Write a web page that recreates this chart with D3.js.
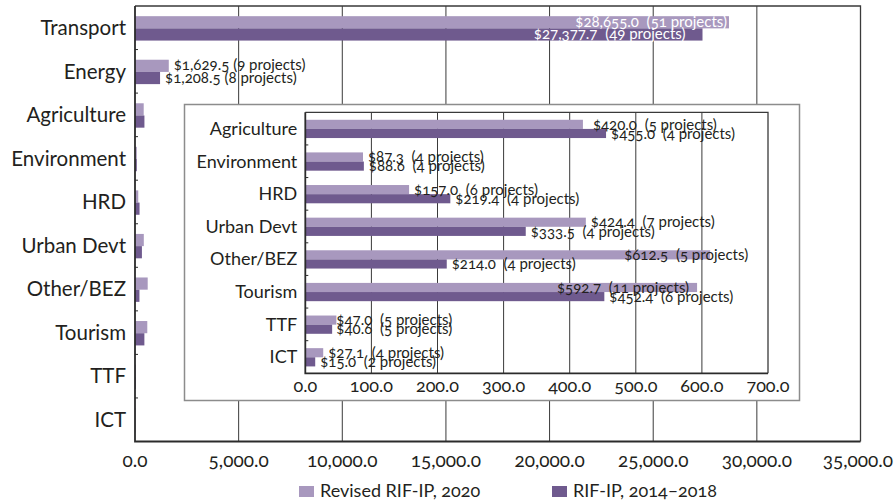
<!DOCTYPE html>
<html>
<head>
<meta charset="utf-8">
<script src="https://cdn.jsdelivr.net/npm/d3@7"></script>
<style>
  html, body { margin: 0; padding: 0; background: #fff; }
  svg text { font-family: "Lato", "Open Sans", sans-serif; font-variant-numeric: oldstyle-nums; fill: #231f20; }
</style>
</head>
<body>
<svg id="chart" width="896" height="504"></svg>
<script>
// ---------- data ----------
const categories = ["Transport", "Energy", "Agriculture", "Environment", "HRD", "Urban Devt", "Other/BEZ", "Tourism", "TTF", "ICT"];
const revised2020 = [28655.0, 1629.5, 420.0, 87.3, 157.0, 424.4, 612.5, 592.7, 47.0, 27.1];
const rifip20142018 = [27377.7, 1208.5, 455.0, 88.6, 219.4, 333.5, 214.0, 452.4, 40.6, 15.0];
const revisedProjects = [51, 9, 5, 4, 6, 7, 5, 11, 5, 4];
const rifipProjects = [49, 8, 4, 4, 4, 4, 4, 6, 5, 2];
const seriesNames = ["Revised RIF-IP, 2020", "RIF-IP, 2014\u20132018"];
const mainTicks = [0, 5000, 10000, 15000, 20000, 25000, 30000, 35000];
const insetTicks = [0, 100, 200, 300, 400, 500, 600, 700];
const mainLabelled = ["Transport", "Energy"];
const insetCategories = categories.slice(2);

const colors = ["#a898be", "#6f5a8e"];
const series = [
  { name: seriesNames[0], values: revised2020, projects: revisedProjects, color: colors[0] },
  { name: seriesNames[1], values: rifip20142018, projects: rifipProjects, color: colors[1] }
];

const svg = d3.select("#chart");
const fmt = d3.format(",.1f");
const labelText = (v, n, sep) => `$${fmt(v)}${sep}(${n} projects)`;

function drawPanel(g, cats, xScale, ticks, box, opts) {
  const y = d3.scaleBand().domain(cats).range([box.top, box.bottom]).padding(0);
  const bw = y.bandwidth();
  const barH = bw * 0.28;
  const offset = (bw - 2 * barH) / 2 + opts.shift;

  g.selectAll(".grid").data(ticks.slice(1, -1)).join("line")
    .attr("x1", d => xScale(d)).attr("x2", d => xScale(d))
    .attr("y1", box.top).attr("y2", box.bottom)
    .attr("stroke", "#3a3a3a").attr("stroke-width", 1);

  series.forEach((s, si) => {
    g.selectAll(".bar" + si).data(cats).join("rect")
      .attr("x", xScale(0))
      .attr("y", c => y(c) + offset + si * barH)
      .attr("width", c => xScale(s.values[categories.indexOf(c)]) - xScale(0))
      .attr("height", barH)
      .attr("fill", s.color);
  });

  g.append("path")
    .attr("d", `M${box.left},${box.top}H${box.right}V${box.bottom}`)
    .attr("fill", "none").attr("stroke", "#3a3a3a").attr("stroke-width", 1.3);
  g.append("path")
    .attr("d", `M${box.left},${box.top}V${box.bottom}H${box.right}`)
    .attr("fill", "none").attr("stroke", "#2b2b2b").attr("stroke-width", 1.8);

  g.selectAll(".ytick").data(cats.slice(1)).join("line")
    .attr("x1", box.left).attr("x2", box.left + 3)
    .attr("y1", c => y(c)).attr("y2", c => y(c))
    .attr("stroke", "#2b2b2b").attr("stroke-width", 1);

  g.selectAll(".cat").data(cats).join("text")
    .attr("x", box.left - opts.catGap)
    .attr("y", c => y(c) + bw / 2)
    .attr("dy", "0.35em")
    .attr("text-anchor", "end")
    .style("font-size", opts.catSize + "px")
    .text(c => c);

  g.selectAll(".xt").data(ticks).join("text")
    .attr("x", d => xScale(d))
    .attr("y", box.bottom + opts.tickDy)
    .attr("text-anchor", "middle")
    .style("font-size", opts.tickSize + "px")
    .text(d => fmt(d))
    .each(function () {
      const b = this.getBBox();
      if (b.x + b.width > 893) d3.select(this).attr("x", +d3.select(this).attr("x") - (b.x + b.width - 893));
    });

  return { y, barH, offset };
}

// ---------- main panel ----------
const mainBox = { left: 135, right: 860.5, top: 6, bottom: 441.5 };
const xMain = d3.scaleLinear().domain([0, 35000]).range([mainBox.left, mainBox.right]);
const gMain = svg.append("g");
const mainInfo = drawPanel(gMain, categories, xMain, mainTicks, mainBox,
  { catGap: 9, catSize: 20.5, tickDy: 25, tickSize: 19, shift: 0.6 });

series.forEach((s, si) => {
  gMain.selectAll(".mlab" + si).data(mainLabelled).join("text")
    .each(function (c) {
      const i = categories.indexOf(c);
      const v = s.values[i];
      const inside = xMain(v) - xMain(0) > 200;
      d3.select(this)
        .attr("x", inside ? xMain(v) - 2 - si * 15 : xMain(v) + 5)
        .attr("y", mainInfo.y(c) + mainInfo.offset + si * mainInfo.barH + mainInfo.barH / 2)
        .attr("dy", "0.3em")
        .attr("text-anchor", inside ? "end" : "start")
        .style("font-size", "15px")
        .style("fill", inside ? "#ffffff" : "#231f20")
        .style("white-space", "pre")
        .text(labelText(v, s.projects[i], inside ? "  " : " "));
    });
});

// ---------- inset panel ----------
const gInset = svg.append("g");
gInset.append("rect")
  .attr("x", 184.5).attr("y", 104.5).attr("width", 615).attr("height", 296)
  .attr("fill", "#fff").attr("stroke", "#8c8c8c").attr("stroke-width", 1.5);
const insetBox = { left: 305.3, right: 768, top: 112.3, bottom: 373.3 };
const xInset = d3.scaleLinear().domain([0, 700]).range([insetBox.left, insetBox.right]);
const insetInfo = drawPanel(gInset, insetCategories, xInset, insetTicks, insetBox,
  { catGap: 8, catSize: 18, tickDy: 19, tickSize: 18, shift: 0.3 });

series.forEach((s, si) => {
  gInset.selectAll(".ilab" + si).data(insetCategories).join("text")
    .each(function (c) {
      const i = categories.indexOf(c);
      const v = s.values[i];
      let x = xInset(v) + 5, anchor = "start";
      if (c === "Tourism" && si === 0) { x = xInset(v) - 8; anchor = "end"; }
      if (c === "Other/BEZ" && si === 0) { x = xInset(v) - 24; anchor = "middle"; }
      if (c === "Agriculture" && si === 0) { x = xInset(v) + 10; }
      if (c === "TTF") { x = xInset(Math.max(s.values[i], series[0].values[i])); }
      d3.select(this)
        .attr("x", x)
        .attr("y", insetInfo.y(c) + insetInfo.offset + si * insetInfo.barH + insetInfo.barH / 2)
        .attr("dy", "0.35em")
        .attr("text-anchor", anchor)
        .style("font-size", "15px")
        .style("white-space", "pre")
        .text(labelText(v, s.projects[i], "  "));
    });
});

// ---------- legend ----------
const legendItems = [{ x: 299, color: colors[0], name: seriesNames[0] }, { x: 552, color: colors[1], name: seriesNames[1] }];
const gLeg = svg.append("g");
legendItems.forEach(d => {
  gLeg.append("rect").attr("x", d.x).attr("y", 486).attr("width", 15).attr("height", 11).attr("fill", d.color);
  gLeg.append("text").attr("x", d.x + 21).attr("y", 497).style("font-size", "18px").text(d.name);
});
</script>
</body>
</html>
